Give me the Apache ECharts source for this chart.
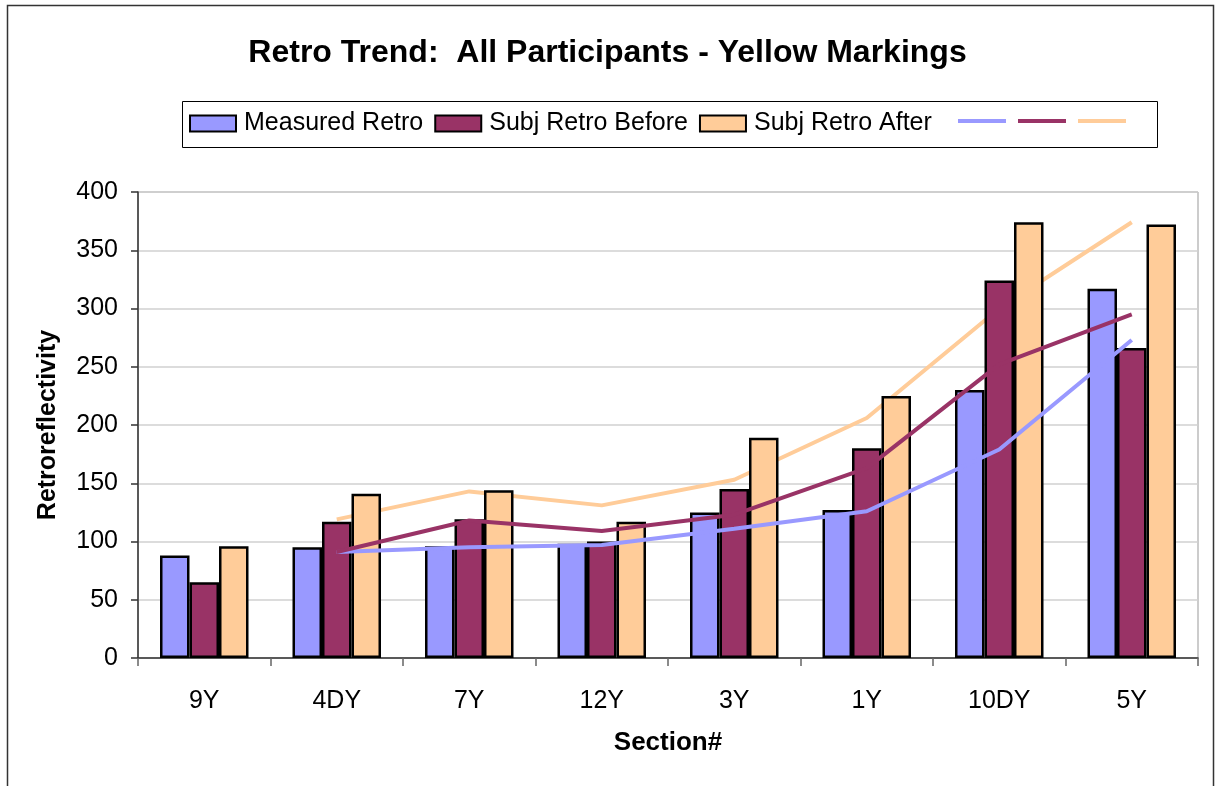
<!DOCTYPE html>
<html>
<head>
<meta charset="utf-8">
<script src="https://cdn.jsdelivr.net/npm/echarts@6/dist/echarts.min.js"></script>
<style>
	html, body { margin: 0; padding: 0; background: #fff; }
	#myChart { width: 1215px; height: 786px; }
</style>
</head>
<body>
<div id="myChart"></div>
<script>
	// values
	var categories = ['9Y', '4DY', '7Y', '12Y', '3Y', '1Y', '10DY', '5Y'];
	var measuredRetro = [88, 95, 96, 98, 125, 127, 230, 317];
	var subjBefore = [65, 117, 119, 100, 145, 180, 324, 266];
	var subjAfter = [96, 141, 144, 117, 189, 225, 374, 372];
	// trend lines (start at second section)
	var measuredTrend = [null, 91, 95, 97, 111, 126, 179, 273];
	var beforeTrend = [null, 91, 118, 109, 123, 163, 252, 295];
	var afterTrend = [null, 119, 143, 131, 153, 206, 300, 374];
	var yTicks = {min: 0, max: 400, interval: 50};

	var font = "'Liberation Sans', Arial, sans-serif";
	var blue = '#9999FF', purple = '#993366', orange = '#FFCC99';

	var myChart = echarts.init(document.getElementById('myChart'));
	myChart.setOption({
		animation: false,
		textStyle: {fontFamily: font, color: '#000'},
		title: {
			text: 'Retro Trend:  All Participants - Yellow Markings',
			left: 'center',
			top: 32,
			textStyle: {fontFamily: font, fontSize: 32, fontWeight: 'bold', color: '#000'}
		},
		graphic: [
			{type: 'rect', left: 5, top: 3, shape: {width: 1206, height: 800}, style: {fill: 'none', stroke: '#333', lineWidth: 1.5}, z: -1},
			{type: 'rect', left: 180, top: 99, shape: {width: 975, height: 46}, style: {fill: 'none', stroke: '#000', lineWidth: 1}}
		],
		legend: [{
			data: ['Measured Retro', 'Subj Retro Before', 'Subj Retro After'],
			left: 189,
			top: 111,
			padding: 0,
			itemWidth: 46,
			itemHeight: 16,
			itemGap: 11,
			icon: 'rect',
			textStyle: {fontFamily: font, fontSize: 25, color: '#000', padding: [0, 0, 0, 3]}
		}, {
			data: ['mTrend', 'bTrend', 'aTrend'],
			left: 958,
			top: 119,
			padding: 0,
			itemWidth: 48,
			itemHeight: 4,
			itemGap: 12,
			icon: 'rect',
			formatter: function () { return ''; },
			textStyle: {fontSize: 4}
		}],
		grid: {
			left: 138,
			top: 192,
			width: 1060,
			height: 466,
			show: true,
			borderColor: '#999',
			borderWidth: 1
		},
		xAxis: {
			type: 'category',
			data: categories,
			name: 'Section#',
			nameLocation: 'middle',
			nameGap: 72,
			nameTextStyle: {fontFamily: font, fontSize: 26, fontWeight: 'bold', color: '#000'},
			axisLine: {lineStyle: {color: '#333', width: 1.5}},
			axisTick: {show: true, length: 8, lineStyle: {color: '#666', width: 1.5}},
			axisLabel: {fontFamily: font, fontSize: 25, color: '#000', margin: 31}
		},
		yAxis: {
			type: 'value',
			min: yTicks.min,
			max: yTicks.max,
			interval: yTicks.interval,
			name: 'Retroreflectivity',
			nameLocation: 'middle',
			nameGap: 77,
			nameTextStyle: {fontFamily: font, fontSize: 25, fontWeight: 'bold', color: '#000'},
			axisLine: {show: true, lineStyle: {color: '#333', width: 1.5}},
			axisTick: {show: true, length: 7, lineStyle: {color: '#333', width: 1.5}},
			axisLabel: {fontFamily: font, fontSize: 25, color: '#000', margin: 20},
			splitLine: {lineStyle: {color: '#d0d0d0', width: 1.5}}
		},
		series: [{
				name: 'Measured Retro',
				type: 'bar',
				barWidth: 29.5,
				barGap: '0%',
				itemStyle: {color: blue, borderColor: '#000', borderWidth: 2.5},
				data: measuredRetro
			},
			{
				name: 'Subj Retro Before',
				type: 'bar',
				barWidth: 29.5,
				barGap: '0%',
				itemStyle: {color: purple, borderColor: '#000', borderWidth: 2.5},
				data: subjBefore
			},
			{
				name: 'Subj Retro After',
				type: 'bar',
				barWidth: 29.5,
				barGap: '0%',
				itemStyle: {color: orange, borderColor: '#000', borderWidth: 2.5},
				data: subjAfter
			},
			{
				name: 'mTrend',
				type: 'line',
				symbol: 'none',
				z: 3,
				itemStyle: {color: blue},
				lineStyle: {color: blue, width: 4},
				data: measuredTrend
			},
			{
				name: 'bTrend',
				type: 'line',
				symbol: 'none',
				z: 3,
				itemStyle: {color: purple},
				lineStyle: {color: purple, width: 4},
				data: beforeTrend
			},
			{
				name: 'aTrend',
				type: 'line',
				symbol: 'none',
				z: 1,
				itemStyle: {color: orange},
				lineStyle: {color: orange, width: 4},
				data: afterTrend
			}
		]
	});
</script>
</body>
</html>
